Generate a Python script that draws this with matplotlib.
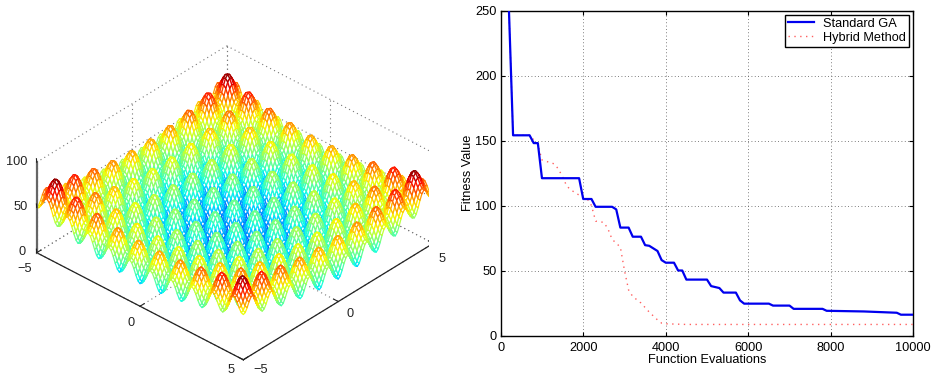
import numpy as np
import matplotlib
matplotlib.use("Agg")
import matplotlib.pyplot as plt
from mpl_toolkits.mplot3d import proj3d

plt.rcParams['font.family'] = ['Liberation Sans', 'DejaVu Sans']

# ---- convergence curves
ga_x = [200, 300, 700, 800, 900, 1000, 1900, 2000, 2200, 2300, 2700, 2800, 2900, 3100, 3200, 3400,
        3500, 3600, 3800, 3900, 4000, 4200, 4300, 4400, 4500, 5000, 5100, 5300, 5400, 5700, 5800,
        5900, 6500, 6600, 7000, 7100, 7800, 7900, 8800, 9200, 9600, 9700, 10000]
ga_y = [250, 154, 154, 148, 148, 121, 121, 105, 105, 99, 99, 97, 83, 83, 76, 76,
        69.5, 69, 65, 58, 56, 56, 50, 50, 43, 43, 38, 36.5, 33, 33, 27,
        24.5, 24.5, 23, 23, 20.5, 20.5, 19, 18.5, 18, 17.5, 16, 16]
hy_x = [200, 300, 700, 900, 1000, 1100, 1300, 1400, 1500, 1600, 1700, 1800, 1900, 2000, 2100, 2200,
        2300, 2500, 2600, 2700, 2800, 2900, 3000, 3100, 3200, 3400, 3600, 3800, 3900, 4000, 4500, 10000]
hy_y = [250, 154, 154, 147, 135, 134, 132, 128, 122, 115, 112, 110, 108, 106, 105, 100,
        88, 87, 82, 74, 71, 68, 50, 35, 30, 25, 18, 12, 9.5, 9, 8.5, 8.5]
x_ticks = [0, 2000, 4000, 6000, 8000, 10000]
y_ticks = [0, 50, 100, 150, 200, 250]
series_names = ['Standard GA', 'Hybrid Method']
x_label = 'Function Evaluations'
y_label = 'Fitness Value'

# ---- surface grid and axis ticks of the mesh panel
mesh_x = np.arange(-5, 5.0001, 0.1)
mesh_y = np.arange(-5, 5.0001, 0.1)
surf_ticks_xy = [-5, 0, 5]
surf_ticks_z = [0, 50, 100]

W, H = 932, 376
FS = 9.2
fig = plt.figure(figsize=(W / 100, H / 100), dpi=100, facecolor='white')

# ---------------------------------------------------------------- left panel
ax3 = fig.add_axes([0, 0, 400 / W, 400 / H], projection='3d', proj_type='ortho')
ax3.computed_zorder = False
ax3.set_axis_off()
ax3.view_init(elev=34.3, azim=-47.4)
ax3.set_box_aspect((1, 1, 0.39))
ax3.set_xlim(-5, 5, view_margin=0)
ax3.set_ylim(-5, 5, view_margin=0)
ax3.set_zlim(0, 100, view_margin=0)


def corner_px(x, y, z):
    ax3.apply_aspect()
    u, v, _ = proj3d.proj_transform(x, y, z, ax3.get_proj())
    return ax3.transData.transform((u, v))


a = corner_px(-5, -5, 0)   # left corner
b = corner_px(5, 5, 0)     # right corner
k = (433.3 - 36.7) / (b[0] - a[0])
S = 400 * k
ax3.set_position([0, 0, S / W, S / H])
a = corner_px(-5, -5, 0)
ax3.set_position([(36.7 - a[0]) / W, ((H - 252.7) - a[1]) / H, S / W, S / H])

X, Y = np.meshgrid(mesh_x, mesh_y)
Z = 20 + X ** 2 + Y ** 2 - 10 * (np.cos(2 * np.pi * X) + np.cos(2 * np.pi * Y))
surf = ax3.plot_surface(X, Y, Z, rstride=1, cstride=1, color='white', shade=False,
                        linewidth=0.9, antialiased=True, zorder=2)
Zc = 0.25 * (Z[:-1, :-1] + Z[1:, :-1] + Z[:-1, 1:] + Z[1:, 1:])
surf.set_edgecolor(plt.cm.jet((Zc.ravel() - Z.min()) / (Z.max() - Z.min())))

dot = dict(color='#777777', lw=0.8, ls=(0, (1, 3)), zorder=1)
lo, hi = surf_ticks_xy[0], surf_ticks_xy[-1]
for t in surf_ticks_xy:
    ax3.plot([t, t], [lo, hi], [0, 0], **dot)
    ax3.plot([lo, hi], [t, t], [0, 0], **dot)
    ax3.plot([t, t], [hi, hi], [0, 100], **dot)
    ax3.plot([lo, lo], [t, t], [0, 100], **dot)
for t in surf_ticks_z:
    ax3.plot([lo, hi], [hi, hi], [t, t], **dot)
    ax3.plot([lo, lo], [lo, hi], [t, t], **dot)

# solid front axes
ax3.plot([lo, hi], [lo, lo], [0, 0], color='#222222', lw=0.9, zorder=3)
ax3.plot([hi, hi], [lo, hi], [0, 0], color='#222222', lw=0.9, zorder=3)
ax3.plot([lo, lo], [lo, lo], [0, 100], color='#666666', lw=1.6, zorder=3)
for t in surf_ticks_xy:
    ax3.plot([t, t + 0.0], [lo, lo + 0.22], [0, 0], color='#222222', lw=0.8, zorder=3)
    ax3.plot([hi, hi - 0.22], [t, t], [0, 0], color='#222222', lw=0.8, zorder=3)
for t in surf_ticks_z:
    ax3.plot([lo, lo - 0.22 * 0.72], [lo, lo + 0.22 * 0.72], [t, t], color='#222222', lw=0.8, zorder=3)


def label3d(x, y, z, s, dx, dy, ha='center'):
    u, v, _ = proj3d.proj_transform(x, y, z, ax3.get_proj())
    ax3.annotate(s, xy=(u, v), xycoords='data', xytext=(dx, dy), textcoords='offset pixels',
                 ha=ha, va='center', fontsize=FS, color='#222222', annotation_clip=False)


def lab(t):
    return str(t).replace('-', '\u2212')


label3d(lo, lo, 100, lab(100), -9, 0, ha='right')
label3d(lo, lo, 50, lab(50), -9, 0, ha='right')
label3d(lo, lo, 0, lab(0), -11, 1, ha='right')
for t, dx, dy in zip(surf_ticks_xy, [-12, -9, -12], [-16, -17, -10.5]):
    label3d(t, lo, 0, lab(t), dx, dy)
for t, dx, dy in zip(surf_ticks_xy, [17, 12, 9], [-10.5, -12, -16]):
    label3d(hi, t, 0, lab(t), dx, dy)

# ---------------------------------------------------------------- right panel
L, R, T, B = 500.7, 913.3, 10.5, 335.5
ax = fig.add_axes([L / W, 1 - B / H, (R - L) / W, (B - T) / H])
ax.plot(hy_x, hy_y, color='#ff6060', lw=1.0, ls=(0, (1, 3.2)), label=series_names[1], zorder=3)
ax.plot(ga_x, ga_y, color='#0000ee', lw=1.6, label=series_names[0], zorder=4)
ax.set_xlim(0, 10000)
ax.set_ylim(0, 250)
ax.set_xticks(x_ticks)
ax.set_yticks(y_ticks)
ax.tick_params(direction='in', length=3, width=0.8, top=True, right=True, labelsize=FS, pad=3)
ax.tick_params(axis='x', pad=5)
ax.grid(True, color='#555555', lw=0.6, ls=(0, (1, 3)))
ax.set_axisbelow(True)
for s in ax.spines.values():
    s.set_linewidth(1.0)
ax.set_xlabel(x_label, fontsize=FS, labelpad=0)
ax.set_ylabel(y_label, fontsize=FS, labelpad=1)
h, l = ax.get_legend_handles_labels()
leg = ax.legend(h[::-1], l[::-1], loc='upper right', bbox_to_anchor=((909 - L) / (R - L), 1 - (15 - T) / (B - T)),
                borderaxespad=0, fancybox=False, framealpha=1, edgecolor='black', fontsize=FS,
                handlelength=2.0, handletextpad=0.75, labelspacing=0.15, borderpad=0.22)
leg.get_frame().set_linewidth(1.0)

fig.savefig('out.png', dpi=100)
